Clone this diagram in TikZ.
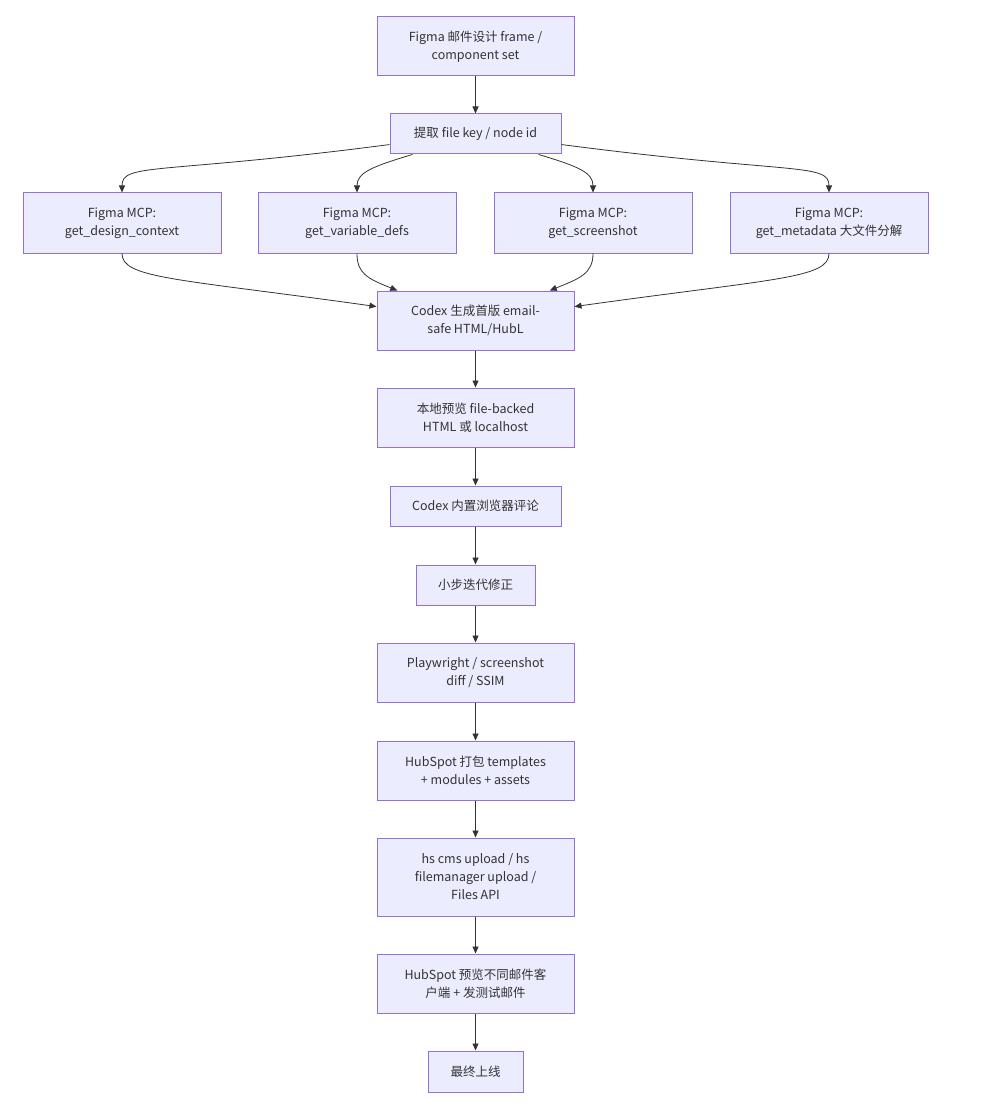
\documentclass[tikz,border=0pt]{standalone}
\usepackage{fontspec}
\setmainfont{Noto Sans CJK SC}
\usepackage{tikz}
\usetikzlibrary{arrows.meta}
\definecolor{boxfill}{HTML}{ECECFF}
\definecolor{boxline}{HTML}{9370DB}
\definecolor{edgeline}{HTML}{333333}

\begin{document}
\begin{tikzpicture}[x=1pt, y=-1pt,
    every node/.style={font=\fontsize{12.5}{18}\selectfont, text=edgeline},
    box/.style={draw=boxline, fill=boxfill, line width=1pt, align=center, inner sep=0pt, minimum width=197pt, minimum height=59pt},
    flow/.style={draw=edgeline, line width=0.8pt, -{Triangle[length=7pt,width=6pt]}}]
            \useasboundingbox (0, 0) rectangle (986, 1107);
            \draw (475.5, 46.5) node[box](0){Figma 邮件设计 frame /\\component set};
            \draw (475.5, 134) node[box, minimum width=171pt, minimum height=40pt](1){提取 file key / node id};
            \draw (122, 223) node[box, minimum width=198pt, minimum height=60pt](2){Figma MCP:\\get\_design\_context};
            \draw (357, 223) node[box, minimum width=198pt, minimum height=60pt](3){Figma MCP:\\get\_variable\_defs};
            \draw (593, 223) node[box, minimum width=198pt, minimum height=60pt](4){Figma MCP:\\get\_screenshot};
            \draw (829, 223) node[box, minimum width=198pt, minimum height=60pt](5){Figma MCP:\\get\_metadata 大文件分解};
            \draw (475.5, 320.5) node[box](6){Codex 生成首版 email-\\safe HTML/HubL};
            \draw (475.5, 417.5) node[box](7){本地预览 file-backed\\HTML 或 localhost};
            \draw (475.5, 506) node[box, minimum width=171pt, minimum height=40pt](8){Codex 内置浏览器评论};
            \draw (475.5, 585) node[box, minimum width=119pt, minimum height=40pt](9){小步迭代修正};
            \draw (475.5, 672.5) node[box](10){Playwright / screenshot\\diff / SSIM};
            \draw (475.5, 770.5) node[box](11){HubSpot 打包 templates\\+ modules + assets};
            \draw (475.5, 877) node[box, minimum height=78pt](12){hs cms upload / hs\\filemanager upload /\\Files API};
            \draw (475.5, 983.5) node[box](13){HubSpot 预览不同邮件客\\户端 + 发测试邮件};
            \draw (475.5, 1071.5) node[box, minimum width=95pt, minimum height=41pt](14){最终上线};
            \draw[flow] (0) -- (1);
            \draw[flow] (1.187) .. controls +(-230, 30) and +(0, -30) .. (2.north);
            \draw[flow] (1.198) .. controls +(-40, 12) and +(0, -20) .. (3.north);
            \draw[flow] (1.-18) .. controls +(40, 12) and +(0, -20) .. (4.north);
            \draw[flow] (1.-7) .. controls +(230, 30) and +(0, -30) .. (5.north);
            \draw[flow] (2.south) .. controls +(0, 25) and +(-200, -28) .. (6.172);
            \draw[flow] (3.south) .. controls +(0, 20) and +(-30, -12) .. (6.159);
            \draw[flow] (4.south) .. controls +(0, 20) and +(30, -12) .. (6.22);
            \draw[flow] (5.south) .. controls +(0, 25) and +(200, -28) .. (6.8);
            \draw[flow] (6) -- (7);
            \draw[flow] (7) -- (8);
            \draw[flow] (8) -- (9);
            \draw[flow] (9) -- (10);
            \draw[flow] (10) -- (11);
            \draw[flow] (11) -- (12);
            \draw[flow] (12) -- (13);
            \draw[flow] (13) -- (14);
        \end{tikzpicture}
\end{document}
